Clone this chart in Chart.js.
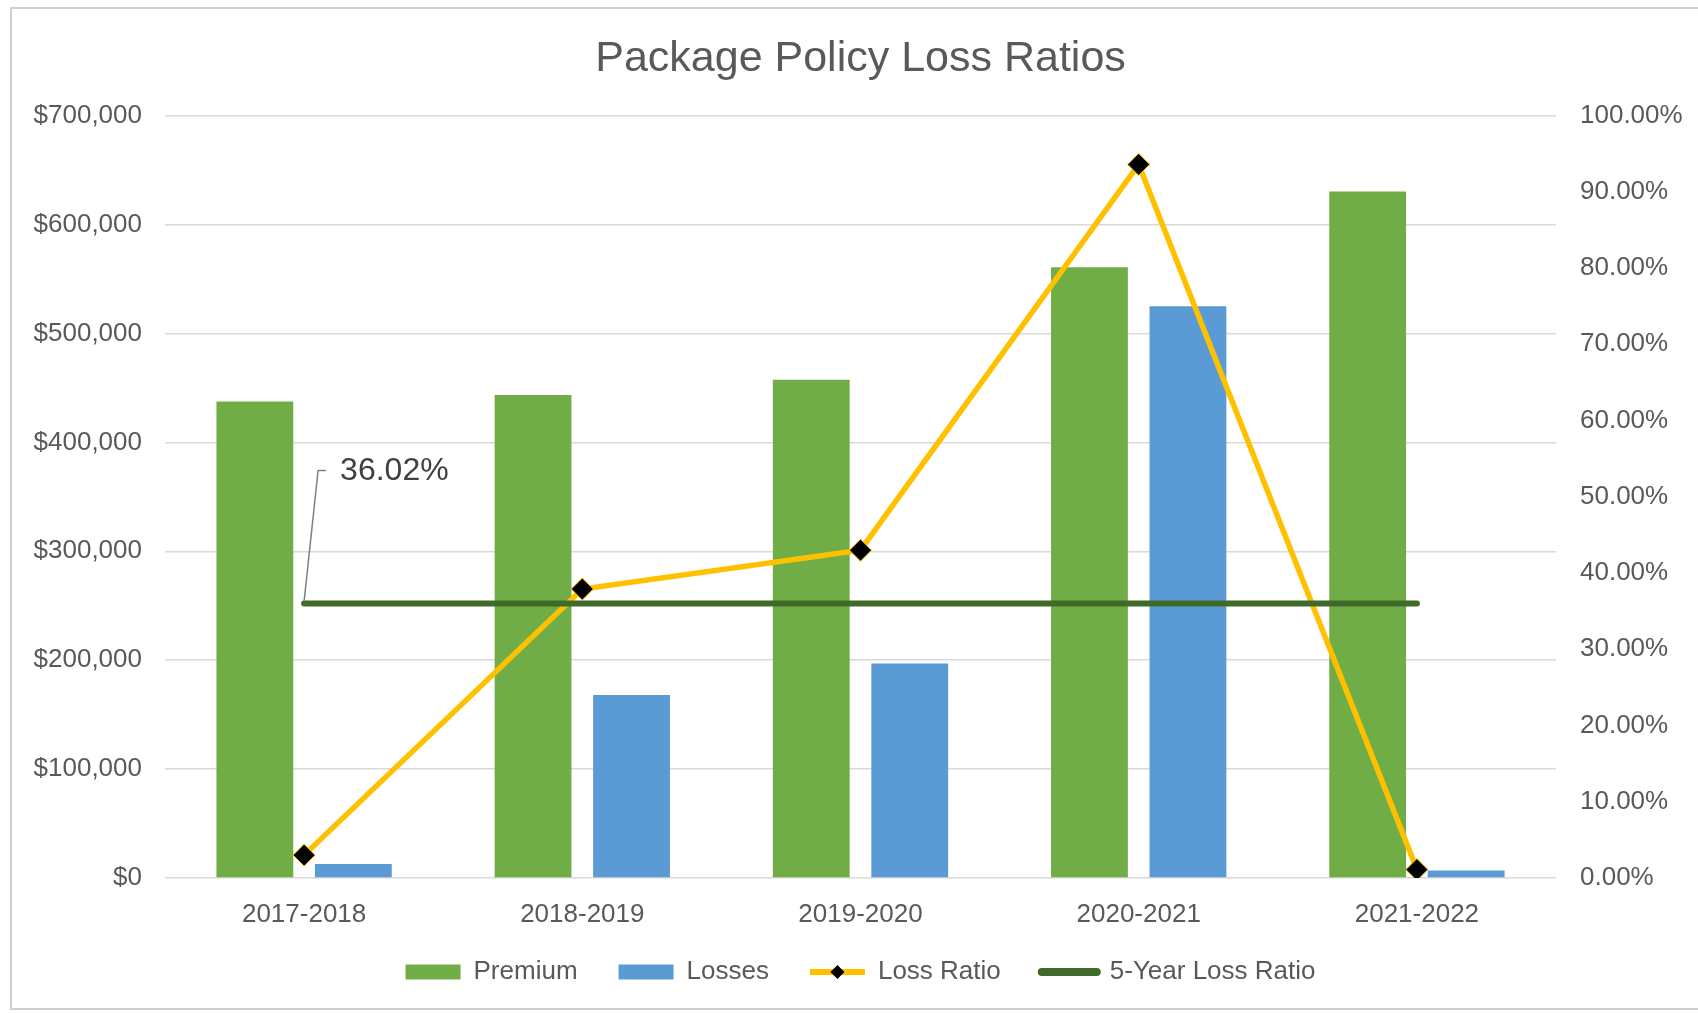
<!DOCTYPE html>
<html>
<head>
<meta charset="utf-8">
<script src="https://cdn.jsdelivr.net/npm/chart.js@4"></script>
<style>
  body { margin: 0; background: #fff; }
  #wrap { width: 1698px; height: 1013px; }
</style>
</head>
<body>
<div id="wrap"><canvas id="myChart"></canvas></div>
<script>
// data
var years = ['2017-2018', '2018-2019', '2019-2020', '2020-2021', '2021-2022'];
var premium = [437500, 443500, 457400, 560800, 630400];
var losses = [12900, 168000, 196900, 525000, 7000];
var lossRatio = [0.030, 0.379, 0.430, 0.936, 0.011];
var fiveYear = [0.3602, 0.3602, 0.3602, 0.3602, 0.3602];
var fiveYearLabel = '36.02%';

var FONT = 'Liberation Sans, Arial, sans-serif';
var GREY = '#595959';

// white background + thin frame
var frame = {
  id: 'frame',
  beforeDraw: function (chart) {
    var ctx = chart.ctx;
    ctx.save();
    ctx.fillStyle = '#fff';
    ctx.fillRect(0, 0, chart.width, chart.height);
    ctx.strokeStyle = '#d0d0d0';
    ctx.lineWidth = 2;
    ctx.strokeRect(11, 8, chart.width + 20, chart.height - 12);
    ctx.restore();
  },
  // pull the legend up a bit, the x labels need a taller box so they are not clipped
  afterLayout: function (chart) {
    var lg = chart.legend;
    lg.top -= 12;
    lg.bottom -= 12;
  }
};

// leader line + "36.02%" label on first point of 5-year line
var callout = {
  id: 'callout',
  afterDatasetsDraw: function (chart) {
    var p = chart.getDatasetMeta(3).data[0];
    var ctx = chart.ctx;
    ctx.save();
    ctx.strokeStyle = '#808080';
    ctx.lineWidth = 1.5;
    ctx.beginPath();
    ctx.moveTo(p.x, p.y - 2);
    ctx.lineTo(p.x + 14, p.y - 133);
    ctx.lineTo(p.x + 22, p.y - 133);
    ctx.stroke();
    ctx.fillStyle = '#404040';
    ctx.font = '32px ' + FONT;
    ctx.textBaseline = 'middle';
    ctx.fillText(fiveYearLabel, p.x + 36, p.y - 132);
    ctx.restore();
  }
};

// black diamond on the Loss Ratio legend line
var legendDiamond = {
  id: 'legendDiamond',
  afterDraw: function (chart) {
    var hb = chart.legend.legendHitBoxes[2];
    if (!hb) return;
    var cx = hb.left + 55 / 2, cy = hb.top + hb.height / 2, r = 7;
    var ctx = chart.ctx;
    ctx.save();
    ctx.fillStyle = '#000';
    ctx.beginPath();
    ctx.moveTo(cx, cy - r);
    ctx.lineTo(cx + r, cy);
    ctx.lineTo(cx, cy + r);
    ctx.lineTo(cx - r, cy);
    ctx.closePath();
    ctx.fill();
    ctx.restore();
  }
};

var totalChart = new Chart('myChart', {
  data: {
    labels: years,
    datasets: [
      {
        type: 'bar', label: 'Premium', data: premium,
        backgroundColor: '#70AD47', borderColor: '#70AD47',
        yAxisID: 'y', order: 3,
        categoryPercentage: 0.708, barPercentage: 0.78
      },
      {
        type: 'bar', label: 'Losses', data: losses,
        backgroundColor: '#5B9BD5', borderColor: '#5B9BD5',
        yAxisID: 'y', order: 3,
        categoryPercentage: 0.708, barPercentage: 0.78
      },
      {
        type: 'line', label: 'Loss Ratio', data: lossRatio,
        borderColor: '#FFC000', backgroundColor: '#FFC000', borderWidth: 5.5,
        pointStyle: 'rectRot', pointRadius: 11,
        pointBackgroundColor: '#000', pointBorderColor: '#FFC000', pointBorderWidth: 1,
        yAxisID: 'y1', order: 2, fill: false, tension: 0
      },
      {
        type: 'line', label: '5-Year Loss Ratio', data: fiveYear,
        borderColor: '#3F6A2A', backgroundColor: '#3F6A2A', borderWidth: 6,
        borderCapStyle: 'round', pointRadius: 0,
        yAxisID: 'y1', order: 1, fill: false
      }
    ]
  },
  options: {
    responsive: true,
    maintainAspectRatio: false,
    animation: false,
    devicePixelRatio: 1,
    layout: { padding: { left: 23, right: 0, top: 0, bottom: 6 } },
    plugins: {
      tooltip: { enabled: false },
      title: {
        display: true,
        text: 'Package Policy Loss Ratios',
        color: GREY,
        font: { family: FONT, size: 43, weight: 'normal' },
        padding: { top: 33, bottom: 31 }
      },
      legend: {
        position: 'bottom',
        labels: {
          usePointStyle: true,
          pointStyleWidth: 55,
          boxHeight: 15,
          padding: 41,
          color: GREY,
          font: { family: FONT, size: 26 },
          generateLabels: function (chart) {
            return chart.data.datasets.map(function (ds, i) {
              return {
                text: ds.label,
                datasetIndex: i,
                fillStyle: ds.backgroundColor,
                strokeStyle: ds.borderColor,
                lineWidth: i < 2 ? 0 : (i === 2 ? 6 : 8),
                lineCap: i === 3 ? 'round' : 'butt',
                pointStyle: i < 2 ? 'rect' : 'line',
                fontColor: GREY,
                hidden: false
              };
            });
          }
        }
      }
    },
    scales: {
      x: {
        grid: { display: false },
        border: { display: false },
        ticks: { color: GREY, font: { family: FONT, size: 26 }, padding: 13 },
        afterFit: function (s) { s.height = 52; }
      },
      y: {
        position: 'left',
        min: 0, max: 700000,
        grid: { color: '#d9d9d9', lineWidth: 1.5, drawTicks: false },
        border: { display: false },
        ticks: {
          stepSize: 100000, padding: 23, color: GREY,
          font: { family: FONT, size: 26 },
          callback: function (v) { return '$' + v.toLocaleString('en-US'); }
        },
        afterFit: function (s) { s.width = 142; }
      },
      y1: {
        position: 'right',
        min: 0, max: 1,
        grid: { display: false, drawTicks: false },
        border: { display: false },
        ticks: {
          stepSize: 0.1, padding: 24, color: GREY,
          font: { family: FONT, size: 26 },
          callback: function (v) { return (v * 100).toFixed(2) + '%'; }
        },
        afterFit: function (s) { s.width = 142; }
      }
    }
  },
  plugins: [frame, callout, legendDiamond]
});
</script>
</body>
</html>
